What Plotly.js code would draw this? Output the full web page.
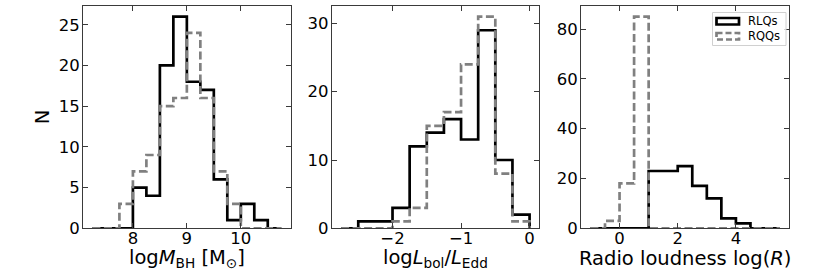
<!DOCTYPE html>
<html>
<head>
<meta charset="utf-8">
<script src="https://cdn.plot.ly/plotly-3.0.1.min.js"></script>
<style>html,body{margin:0;padding:0;background:#fff;}#chart{width:830px;height:277px;}</style>
</head>
<body>
<div id="chart"></div>
<script>
// ---- data: bin edges and counts ----
const edgesMBH = [7.25, 7.5, 7.75, 8.0, 8.25, 8.5, 8.75, 9.0, 9.25, 9.5, 9.75, 10.0, 10.25, 10.5, 10.75];
const rlqMBH   = [0, 0, 0, 5, 4, 20, 26, 18, 17, 6, 1, 3, 1, 0];
const rqqMBH   = [0, 0, 3, 7, 9, 15, 16, 24, 16, 7, 3, 0, 0, 0];

const edgesEdd = [-2.75, -2.5, -2.25, -2.0, -1.75, -1.5, -1.25, -1.0, -0.75, -0.5, -0.25, 0.0];
const rlqEdd   = [0, 1, 1, 3, 12, 14, 16, 13, 29, 10, 2];
const rqqEdd   = [0, 0, 0, 1, 3, 15, 17, 24, 31, 8, 1];

const edgesR = [-1.0, -0.5, 0.0, 0.5, 1.0, 1.5, 2.0, 2.5, 3.0, 3.5, 4.0, 4.5, 5.0, 5.5];
const rlqR   = [0, 0, 0, 0, 23, 23, 25, 17, 12, 4, 2, 0, 0];
const rqqR   = [0, 3, 18, 85, 0, 0, 0, 0, 0, 0, 0, 0, 0];

const ticksMBH = [8, 9, 10];
const ticksEdd = [-2, -1, 0];
const ticksR   = [0, 2, 4];
const yticks1 = [0, 5, 10, 15, 20, 25];
const yticks2 = [0, 10, 20, 30];
const yticks3 = [0, 20, 40, 60, 80];

const seriesNames = ['RLQs', 'RQQs'];
const xTitles = ['log<i>M</i><sub>BH</sub> [M<sub>⊙</sub>]',
                 'log<i>L</i><sub>bol</sub>/<i>L</i><sub>Edd</sub>',
                 'Radio loudness log(<i>R</i>)'];
const yTitle = 'N';

// ---- helpers ----
function stepXY(edges, counts) {
  const x = [edges[0]], y = [0];
  for (let i = 0; i < counts.length; i++) { x.push(edges[i]); y.push(counts[i]); }
  x.push(edges[edges.length - 1]); y.push(counts[counts.length - 1]);
  x.push(edges[edges.length - 1]); y.push(0);
  return {x, y};
}
function xr(edges) {
  const a = edges[0], b = edges[edges.length - 1], m = 0.05 * (b - a);
  return [a - m, b + m];
}
function yr(c1, c2) {
  return [0, 1.05 * Math.max(...c1, ...c2)];
}

const BLACK = '#000000', GREY = '#808080';
const LW = 2.7;
const DASH = '8px,3.5px';
const TICKSIZE = 16.5, TITLESIZE = 19.5;

const panels = [
  {edges: edgesMBH, rlq: rlqMBH, rqq: rqqMBH, xt: ticksMBH, yt: yticks1},
  {edges: edgesEdd, rlq: rlqEdd, rqq: rqqEdd, xt: ticksEdd, yt: yticks2},
  {edges: edgesR,   rlq: rlqR,   rqq: rqqR,   xt: ticksR,   yt: yticks3}
];

const W = 830, H = 277;
const xDomPx = [[83, 290.7], [331.7, 539], [581, 789]];
const yDomPx = [6, 228.3];
function px(x) { return x / W; }
function py(y) { return 1 - y / H; }

const traces = [];
const layout = {
  width: W, height: H,
  margin: {l: 0, r: 0, t: 0, b: 0},
  paper_bgcolor: '#fff', plot_bgcolor: '#fff',
  showlegend: false,
  font: {family: 'DejaVu Sans', color: '#000', size: 16},
  shapes: [], annotations: []
};

panels.forEach((p, i) => {
  const ax = i === 0 ? '' : String(i + 1);
  const s1 = stepXY(p.edges, p.rlq), s2 = stepXY(p.edges, p.rqq);
  traces.push({type: 'scatter', mode: 'lines', x: s1.x, y: s1.y, name: seriesNames[0],
    xaxis: 'x' + ax, yaxis: 'y' + ax, line: {shape: 'hv', color: BLACK, width: LW}, hoverinfo: 'skip'});
  traces.push({type: 'scatter', mode: 'lines', x: s2.x, y: s2.y, name: seriesNames[1],
    xaxis: 'x' + ax, yaxis: 'y' + ax, line: {shape: 'hv', color: GREY, width: LW, dash: DASH}, hoverinfo: 'skip'});
  const common = {
    showline: true, mirror: 'allticks', linecolor: '#3a3a3a', linewidth: 1,
    ticks: 'inside', ticklen: 5, tickwidth: 1, tickcolor: '#3a3a3a',
    showgrid: false, zeroline: false, tickfont: {family: 'DejaVu Sans', size: TICKSIZE, color: '#000'},
    fixedrange: true
  };
  layout['xaxis' + ax] = Object.assign({}, common, {
    domain: [xDomPx[i][0] / W, xDomPx[i][1] / W],
    range: xr(p.edges), tickmode: 'array', tickvals: p.xt,
    anchor: 'y' + ax, ticklabelstandoff: -5
  });
  layout['yaxis' + ax] = Object.assign({}, common, {
    domain: [1 - yDomPx[1] / H, 1 - yDomPx[0] / H],
    range: yr(p.rlq, p.rqq), tickmode: 'array', tickvals: p.yt,
    anchor: 'x' + ax, ticklabelstandoff: -1
  });
  // x-axis title, centred under its panel
  layout.annotations.push({xref: 'x' + ax + ' domain', yref: 'paper', x: 0.5, y: py(258),
    xanchor: 'center', yanchor: 'middle', text: xTitles[i], showarrow: false,
    font: {family: 'DejaVu Sans', size: TITLESIZE, color: '#000'}});
});
layout.annotations.push({xref: 'paper', yref: 'y domain', x: px(42), y: 0.5,
  xanchor: 'center', yanchor: 'middle', text: yTitle, textangle: -90, showarrow: false,
  font: {family: 'DejaVu Sans', size: TITLESIZE, color: '#000'}});

// ---- legend box (drawn in paper coords) ----
layout.shapes.push({type: 'rect', xref: 'paper', yref: 'paper',
  x0: px(712.5), x1: px(786), y0: py(12.5), y1: py(45.5),
  line: {color: '#d0d0d0', width: 1}, fillcolor: 'rgba(255,255,255,0.8)', layer: 'above'});
layout.shapes.push({type: 'rect', xref: 'paper', yref: 'paper',
  x0: px(716.5), x1: px(739), y0: py(18), y1: py(24.5),
  line: {color: BLACK, width: LW}, fillcolor: 'rgba(0,0,0,0)', layer: 'above'});
layout.shapes.push({type: 'rect', xref: 'paper', yref: 'paper',
  x0: px(716.5), x1: px(739), y0: py(33), y1: py(39.5),
  line: {color: GREY, width: LW, dash: '6px,3px'}, fillcolor: 'rgba(0,0,0,0)', layer: 'above'});
layout.annotations.push({xref: 'paper', yref: 'paper', x: px(746), y: py(21.5), xanchor: 'left', yanchor: 'middle',
  text: seriesNames[0], showarrow: false, font: {family: 'DejaVu Sans', size: 11.5, color: '#000'}});
layout.annotations.push({xref: 'paper', yref: 'paper', x: px(746), y: py(36.5), xanchor: 'left', yanchor: 'middle',
  text: seriesNames[1], showarrow: false, font: {family: 'DejaVu Sans', size: 11.5, color: '#000'}});

Plotly.newPlot('chart', traces, layout, {staticPlot: true, displayModeBar: false});
</script>
</body>
</html>
